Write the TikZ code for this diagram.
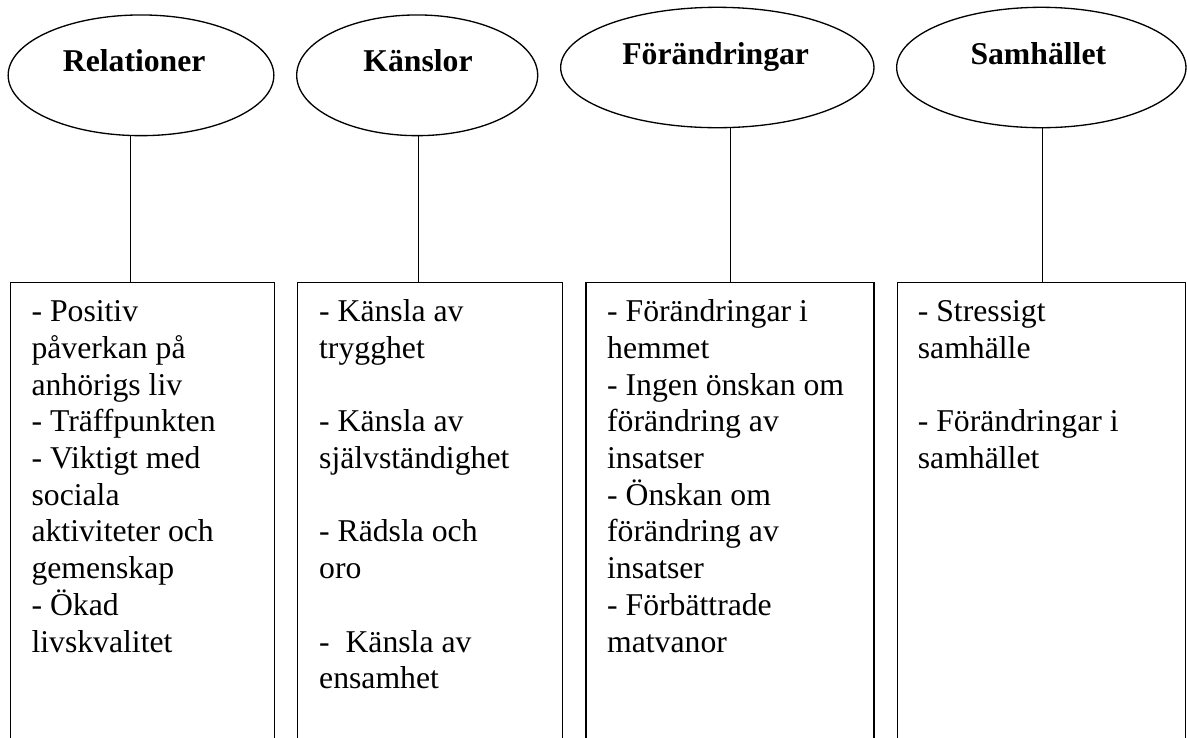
\documentclass[tikz,border=0pt]{standalone}
\usepackage{fontspec}
\setmainfont{Liberation Serif}
\usetikzlibrary{shapes.geometric, fit}
\newcommand{\pxu}{0.3785pt}

\begin{document}
\begin{tikzpicture}[
    x=\pxu, y=-\pxu,
    topic/.style={ellipse, draw, line width=0.5pt, inner sep=0pt},
    heading/.style={anchor=base, inner sep=0pt,
                    font=\fontsize{12}{13.9}\selectfont\bfseries},
    entry/.style={rectangle, draw, line width=0.5pt, inner sep=0pt},
    items/.style={anchor=north west, inner sep=0pt, align=left,
                  font=\fontsize{12}{13.9}\selectfont},
    link/.style={draw, line width=0.45pt},
  ]
    \clip (0,0) rectangle (1187,737);

    \node[topic, minimum width=265.7*\pxu, minimum height=120.7*\pxu] (T1) at (141,75.3) {};
    \node[topic, minimum width=241*\pxu, minimum height=120.7*\pxu] (T2) at (417.2,75.3) {};
    \node[topic, minimum width=313.3*\pxu, minimum height=120.4*\pxu] (T3) at (717.3,67.5) {};
    \node[topic, minimum width=289.3*\pxu, minimum height=120.4*\pxu] (T4) at (1041.3,67.5) {};

    \node[heading] (H1) at (134.2,71) {Relationer};
    \node[heading] (H2) at (418,71) {Känslor};
    \node[heading] (H3) at (715.7,64.3) {Förändringar};
    \node[heading] (H4) at (1038.3,64.3) {Samhället};

    \node[entry, fit={(10.3,282.7) (274.7,760)}] (B1) {};
    \node[entry, fit={(297.7,282.7) (562.3,760)}] (B2) {};
    \node[entry, fit={(586,282.7) (874,760)}] (B3) {};
    \node[entry, fit={(897.3,282.7) (1185.3,760)}] (B4) {};

    \node[items] (I1) at ([shift={(21.4,13.3)}]B1.north west) {\strut- Positiv\\
      påverkan på\\ anhörigs liv\\ - Träffpunkten\\ - Viktigt med\\ sociala\\
      aktiviteter och\\ gemenskap\\ - Ökad\\ livskvalitet};
    \node[items] (I2) at ([shift={(21.6,13.3)}]B2.north west) {\strut- Känsla av\\
      trygghet\\[13.9pt] - Känsla av\\ självständighet\\[13.9pt] - Rädsla och\\
      oro\\[13.9pt] -~~Känsla av\\ ensamhet};
    \node[items] (I3) at ([shift={(21.3,13.3)}]B3.north west) {\strut- Förändringar i\\
      hemmet\\ - Ingen önskan om\\ förändring av\\ insatser\\ - Önskan om\\
      förändring av\\ insatser\\ - Förbättrade\\ matvanor};
    \node[items] (I4) at ([shift={(20.7,13.3)}]B4.north west) {\strut- Stressigt\\
      samhälle\\[13.9pt] - Förändringar i\\ samhället};

    \coordinate (C1) at (130.3,282.7);
    \coordinate (C2) at (418.3,282.7);
    \coordinate (C3) at (730.3,282.7);
    \coordinate (C4) at (1042.3,282.7);
    \draw[link] (T1.south -| C1) -- (C1);
    \draw[link] (T2.south -| C2) -- (C2);
    \draw[link] (T3.south -| C3) -- (C3);
    \draw[link] (T4.south -| C4) -- (C4);
  \end{tikzpicture}
\end{document}
